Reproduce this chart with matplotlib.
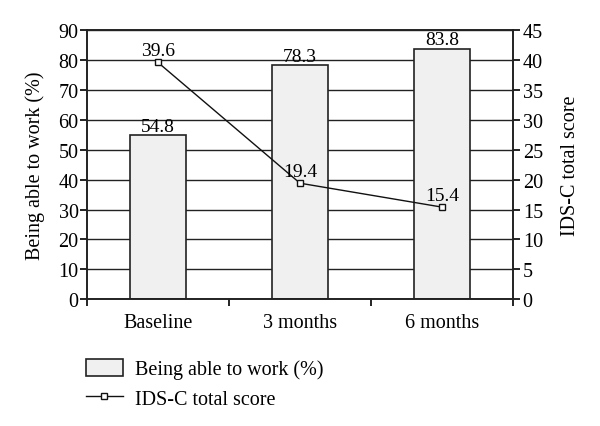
import numpy as np
import matplotlib.pyplot as plt
from matplotlib.ticker import FixedLocator

plt.rcParams.update({
    "font.family": "Liberation Serif",
    "font.size": 14.5,
})

categories = ["Baseline", "3 months", "6 months"]
work_pct = [54.8, 78.3, 83.8]
ids_score = [39.6, 19.4, 15.4]

fig = plt.figure(figsize=(6, 4.27), dpi=100)
ax = fig.add_axes([0.145, 0.297, 0.71, 0.63])
x = np.arange(len(categories))

ax.set_axisbelow(True)
ax.yaxis.grid(True, color="#222222", linewidth=1.0)
bars = ax.bar(x, work_pct, width=0.4, color="#f0f0f0", edgecolor="#222222",
              linewidth=1.2, label="Being able to work (%)", zorder=2)
for xi, v in zip(x, work_pct):
    ax.text(xi, v + 0.2, f"{v}", ha="center", va="bottom", fontsize=14)

ax.set_xlim(-0.5, 2.5)
ax.set_ylim(0, 90)
ax.set_yticks(range(0, 91, 10))
ax.set_xticks(x)
ax.set_xticklabels(categories)
ax.tick_params(axis="x", length=0, pad=10)
ax.xaxis.set_minor_locator(FixedLocator([-0.5, 0.5, 1.5, 2.5]))
ax.tick_params(axis="x", which="minor", length=5, direction="out", width=1.2)
ax.tick_params(axis="y", length=5, direction="out", width=1.2, pad=1)
ax.set_ylabel("Being able to work (%)", fontsize=14.5, labelpad=10)
for s in ax.spines.values():
    s.set_linewidth(1.2)
    s.set_color("#222222")

ax2 = ax.twinx()
line, = ax2.plot(x, ids_score, color="#111111", linewidth=1.0, marker="s",
                 markersize=4.5, markerfacecolor="white", markeredgecolor="#111111",
                 label="IDS-C total score", zorder=3)
for xi, v in zip(x, ids_score):
    ax2.text(xi, v + 0.6, f"{v}", ha="center", va="bottom", fontsize=14)
ax2.set_ylim(0, 45)
ax2.set_yticks(range(0, 46, 5))
ax2.tick_params(axis="y", length=5, direction="out", width=1.2, pad=2)
ax2.set_ylabel("IDS-C total score", fontsize=14.5, labelpad=13)
for s in ax2.spines.values():
    s.set_linewidth(1.2)
    s.set_color("#222222")

fig.legend([bars, line], ["Being able to work (%)", "IDS-C total score"],
           loc="upper left", bbox_to_anchor=(0.143, 0.158), frameon=False,
           fontsize=14.5, handlelength=1.85, handleheight=0.95,
           handletextpad=0.6, labelspacing=0.45, borderaxespad=0,
           borderpad=0)

fig.savefig("out.png", dpi=100)
